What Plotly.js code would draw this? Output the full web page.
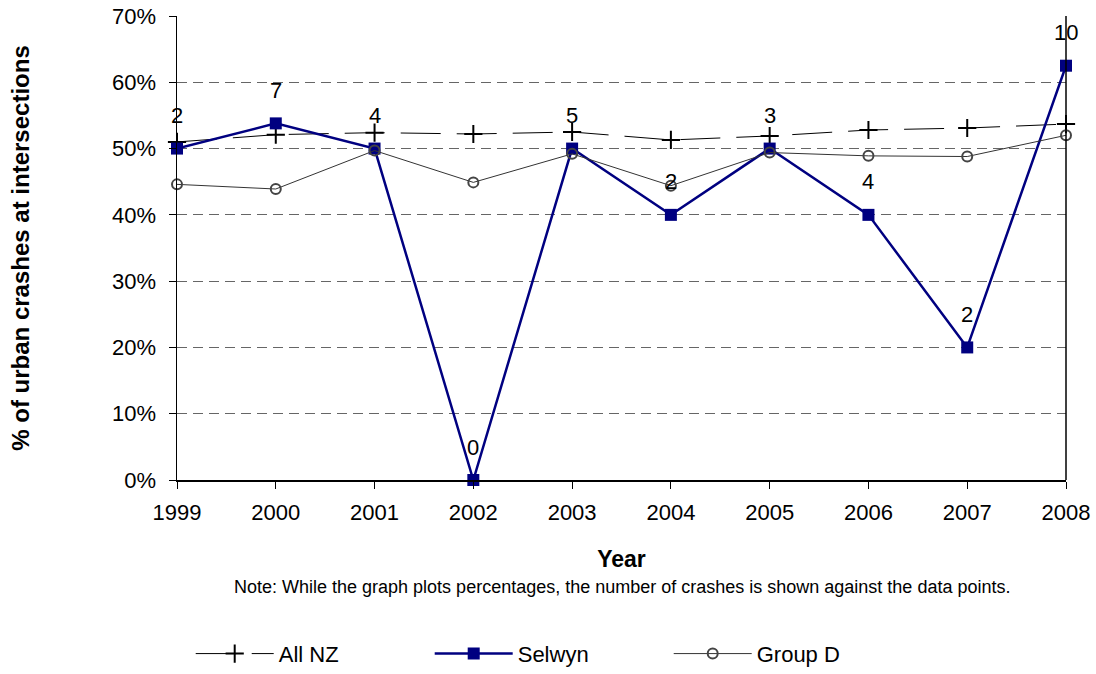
<!DOCTYPE html>
<html>
<head>
<meta charset="utf-8">
<script src="https://cdn.plot.ly/plotly-3.0.1.min.js"></script>
<style>html,body{margin:0;padding:0;background:#fff;}#chart{width:1096px;height:674px;}</style>
</head>
<body>
<div id="chart"></div>
<script>
const years = [1999, 2000, 2001, 2002, 2003, 2004, 2005, 2006, 2007, 2008];
const allNZ = [51.0, 52.1, 52.4, 52.2, 52.5, 51.3, 51.9, 52.8, 53.1, 53.7];
const selwyn = [50.0, 53.8, 50.0, 0.0, 50.0, 40.0, 50.0, 40.0, 20.0, 62.5];
const groupD = [44.6, 43.9, 49.7, 44.9, 49.2, 44.4, 49.4, 48.9, 48.8, 52.0];
const crashCounts = ['2', '7', '4', '0', '5', '2', '3', '4', '2', '10'];
const yTickVals = [0, 10, 20, 30, 40, 50, 60, 70];
const yTickText = ['0%', '10%', '20%', '30%', '40%', '50%', '60%', '70%'];

const FONT = 'Liberation Sans, Arial, sans-serif';

const traces = [
  {
    x: years, y: allNZ, name: 'All NZ', type: 'scatter', mode: 'lines+markers',
    line: {color: '#000', width: 1, dash: '40px,16px'},
    marker: {symbol: 'cross-thin-open', size: 13, line: {color: '#000', width: 2}},
    cliponaxis: false
  },
  {
    x: years, y: selwyn, name: 'Selwyn', type: 'scatter', mode: 'lines+markers',
    line: {color: '#000080', width: 2.5},
    marker: {symbol: 'square', size: 12, color: '#000080'},
    cliponaxis: false
  },
  {
    x: years, y: groupD, name: 'Group D', type: 'scatter', mode: 'lines+markers',
    line: {color: '#333', width: 1},
    marker: {symbol: 'circle-open', size: 10, color: '#444', line: {color: '#444', width: 2}},
    cliponaxis: false
  }
];

const annotations = years.map((yr, i) => ({
  x: yr, y: selwyn[i], xref: 'x', yref: 'y', text: crashCounts[i],
  showarrow: false, yshift: 33, font: {family: FONT, size: 22, color: '#000'}
}));
annotations.push({
  x: 0.5, y: -0.2306, xref: 'paper', yref: 'paper', yanchor: 'middle',
  text: 'Note: While the graph plots percentages, the number of crashes is shown against the data points.',
  showarrow: false, font: {family: FONT, size: 18, color: '#000'}
});

const layout = {
  width: 1096, height: 674,
  margin: {l: 177, r: 30, t: 16, b: 194},
  paper_bgcolor: '#fff', plot_bgcolor: '#fff',
  font: {family: FONT, size: 22, color: '#000'},
  showlegend: true,
  legend: {
    orientation: 'h', xref: 'container', yref: 'container',
    x: 0.174, xanchor: 'left', y: 0.03, yanchor: 'middle',
    font: {family: FONT, size: 22, color: '#000'},
    itemwidth: 78, entrywidth: 146, bgcolor: 'rgba(0,0,0,0)'
  },
  xaxis: {
    range: [1999, 2008], tickmode: 'array', tickvals: years,
    ticks: 'outside', ticklen: 7, tickcolor: '#000', tickwidth: 1,
    showline: true, linecolor: '#000', linewidth: 1.5,
    showgrid: false, zeroline: false, ticklabelstandoff: 5, automargin: false,
    tickfont: {family: FONT, size: 22, color: '#000'},
    title: {text: '<b>Year</b>', standoff: 27, font: {family: FONT, size: 23, color: '#000'}}
  },
  yaxis: {
    range: [0, 70], tickmode: 'array', tickvals: yTickVals, ticktext: yTickText,
    ticks: 'outside', ticklen: 7, tickcolor: '#000', tickwidth: 1,
    showline: true, linecolor: '#000', linewidth: 1.5,
    showgrid: true, gridcolor: '#666', griddash: '10px,6px', gridwidth: 1,
    zeroline: false, ticklabelstandoff: 8, automargin: false,
    tickfont: {family: FONT, size: 22, color: '#000'},
    title: {text: '<b>% of urban crashes at intersections</b>', standoff: 75, font: {family: FONT, size: 24, color: '#000'}}
  },
  shapes: [
    {type: 'line', xref: 'paper', yref: 'paper', x0: 1, x1: 1, y0: 0, y1: 1, line: {color: '#000', width: 1.5}}
  ],
  annotations: annotations
};

Plotly.newPlot('chart', traces, layout, {displayModeBar: false, staticPlot: true});
</script>
</body>
</html>
